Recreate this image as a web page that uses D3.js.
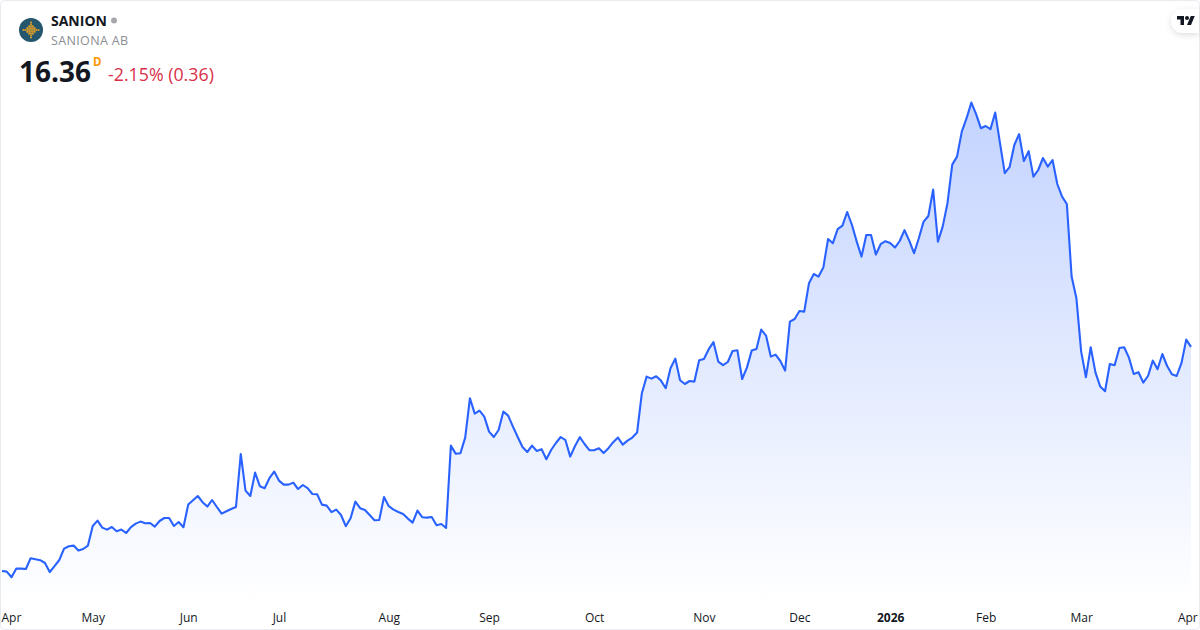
<!DOCTYPE html>
<html><head><meta charset="utf-8">
<script src="https://cdn.jsdelivr.net/npm/d3@7/dist/d3.min.js"></script>
<style>html,body{margin:0;padding:0;background:#fff}svg{display:block}text{font-family:"Open Sans",sans-serif}</style>
</head><body><svg id="c" width="1200" height="630"></svg>
<script>
const symbol="SANION", company="SANIONA AB", lastPrice="16.36", interval="D", change="-2.15% (0.36)";
const tickIndex=[0,19,39,58,81,102,124,147,167,186,206,226,248];
const tickLabels=["Apr","May","Jun","Jul","Aug","Sep","Oct","Nov","Dec","2026","Feb","Mar","Apr"];
const prices=[5.15,5.12,4.84,5.27,5.27,5.25,5.79,5.74,5.69,5.55,5.10,5.39,5.70,6.27,6.39,6.42,6.17,6.25,6.42,7.40,
7.67,7.32,7.22,7.35,7.14,7.22,7.05,7.34,7.52,7.62,7.54,7.55,7.37,7.65,7.80,7.80,7.40,7.60,7.34,8.47,
8.69,8.90,8.59,8.37,8.70,8.35,8.02,8.14,8.25,8.35,11.00,9.17,8.90,10.07,9.39,9.29,9.79,10.12,9.67,9.47,
9.47,9.57,9.25,9.45,9.29,9.00,8.99,8.47,8.42,8.09,8.22,7.95,7.39,7.79,8.62,8.29,8.20,7.95,7.69,7.70,
8.85,8.39,8.22,8.10,8.00,7.77,7.57,8.17,7.84,7.82,7.85,7.44,7.50,7.30,11.42,11.02,11.04,11.82,13.79,13.02,
13.17,12.87,12.12,11.85,12.20,13.12,12.92,12.37,11.85,11.35,11.10,11.42,11.15,11.24,10.74,11.20,11.55,11.85,11.69,10.87,
11.40,11.84,11.50,11.19,11.19,11.29,11.05,11.29,11.59,11.82,11.47,11.67,11.82,12.07,14.04,14.87,14.77,14.89,14.67,14.29,
15.29,15.77,14.69,14.50,14.65,14.62,15.69,15.75,16.24,16.59,15.62,15.44,15.60,16.15,16.19,14.75,15.32,16.17,16.25,17.22,
16.92,15.87,15.97,15.65,15.17,17.62,17.75,18.15,18.12,19.54,20.00,19.87,20.32,21.75,21.54,22.24,22.42,23.10,22.45,21.62,
20.87,21.95,21.95,20.97,21.49,21.64,21.55,21.32,21.65,22.19,21.67,21.04,21.79,22.62,22.90,24.22,21.62,22.37,23.54,25.47,
25.87,27.12,27.79,28.57,27.99,27.29,27.40,27.24,28.07,26.54,25.04,25.34,26.45,26.99,25.65,26.14,24.87,25.20,25.80,25.37,
25.70,24.50,23.87,23.50,19.87,18.79,16.12,14.84,16.34,15.07,14.37,14.14,15.50,15.44,16.30,16.34,15.82,15.00,15.09,14.57,
14.90,15.67,15.24,16.00,15.40,14.99,14.90,15.54,16.72,16.36];

const svg=d3.select("#c");
const W=1200,H=630;
const x=d3.scaleLinear().domain([0,prices.length-1]).range([2,1191]);
const y=d3.scaleLinear().domain([2.2,33.7]).range([630,0]);
const plotBottom=602;

const defs=svg.append("defs");
const grad=defs.append("linearGradient").attr("id","fillGrad").attr("gradientUnits","userSpaceOnUse")
  .attr("x1",0).attr("x2",0).attr("y1",y(d3.max(prices))).attr("y2",plotBottom);
grad.append("stop").attr("offset",0).attr("stop-color","#2962FF").attr("stop-opacity",0.28);
grad.append("stop").attr("offset",1).attr("stop-color","#2962FF").attr("stop-opacity",0);
const f=defs.append("filter").attr("id","sh").attr("x","-30%").attr("y","-50%").attr("width","160%").attr("height","200%");
f.append("feDropShadow").attr("dx",0).attr("dy",2).attr("stdDeviation",3).attr("flood-color","#000").attr("flood-opacity",0.13);

svg.append("path").datum(prices).attr("fill","url(#fillGrad)")
  .attr("d",d3.area().x((d,i)=>x(i)).y0(plotBottom).y1(d=>y(d)));
svg.append("path").datum(prices).attr("fill","none").attr("stroke","#2962FF").attr("stroke-width",2.1)
  .attr("stroke-linejoin","round").attr("d",d3.line().x((d,i)=>x(i)).y(d=>y(d)));

// axis
const axis=d3.axisBottom(x).tickValues(tickIndex).tickSize(0).tickPadding(0)
  .tickFormat((d,i)=>tickLabels[i]);
const ag=svg.append("g").attr("transform","translate(0,618)").call(axis);
ag.select(".domain").remove();
ag.selectAll("text").attr("fill","#131722").attr("font-size",12).attr("y",0).attr("dy","0.32em")
  .attr("font-family",'"Open Sans",sans-serif')
  .attr("font-weight",(d,i)=>tickLabels[i]==="2026"?700:400)
  .attr("text-anchor",(d,i)=>i===0?"start":i===tickIndex.length-1?"end":"middle")
  .attr("dx",(d,i)=>i===0?"-1":i===tickIndex.length-1?"11":"0");

// border
svg.append("rect").attr("x",0.5).attr("y",0.5).attr("width",W-1).attr("height",H-1).attr("rx",4)
  .attr("fill","none").attr("stroke","#e9ebf0");

// TV badge
svg.append("path").attr("d","M1200 9 H1183 A12 12 0 0 0 1171 21 A12 12 0 0 0 1183 33 H1199 V9 Z").attr("fill","#fff").attr("filter","url(#sh)");
svg.append("path").attr("fill","#131722").attr("transform","translate(1177,14) scale(0.5)")
  .attr("d","M14 22H7V11H0V4h14v18zM28 22h-8l7.5-18h8L28 22z");
svg.append("circle").attr("fill","#131722").attr("cx",1187).attr("cy",18).attr("r",2);

// logo
const lg=svg.append("g").attr("transform","translate(31,30)");
lg.append("circle").attr("r",12).attr("fill","#24566e");
const dots=d3.cross(d3.range(-4,5),d3.range(-4,5)).filter(([a,b])=>Math.abs(a)+Math.abs(b)<=3||(Math.abs(a)+Math.abs(b)===4&&(a===0||b===0)));
lg.selectAll("rect").data(dots).join("rect").attr("x",d=>d[0]*1.9-0.8).attr("y",d=>d[1]*1.9-0.8).attr("width",1.6).attr("height",1.6).attr("fill","#f5a81f");

// header
svg.append("text").attr("x",51).attr("y",26).attr("font-size",14).attr("font-weight",700).attr("fill","#131722").text(symbol);
svg.append("circle").attr("cx",114).attr("cy",20.5).attr("r",3).attr("fill","#a6a8ad");
svg.append("text").attr("x",51).attr("y",45).attr("font-size",12.5).attr("letter-spacing",0.35).attr("fill","#8a8d94").text(company);
svg.append("text").attr("x",19).attr("y",82).attr("font-size",28).attr("font-weight",700).attr("fill","#131722").text(lastPrice);
svg.append("text").attr("x",93).attr("y",66).attr("font-size",11.5).attr("font-weight",700).attr("fill","#ff9800").text(interval);
svg.append("text").attr("x",108).attr("y",81).attr("font-size",17.8).attr("fill","#d9304a").text(change);
</script></body></html>
